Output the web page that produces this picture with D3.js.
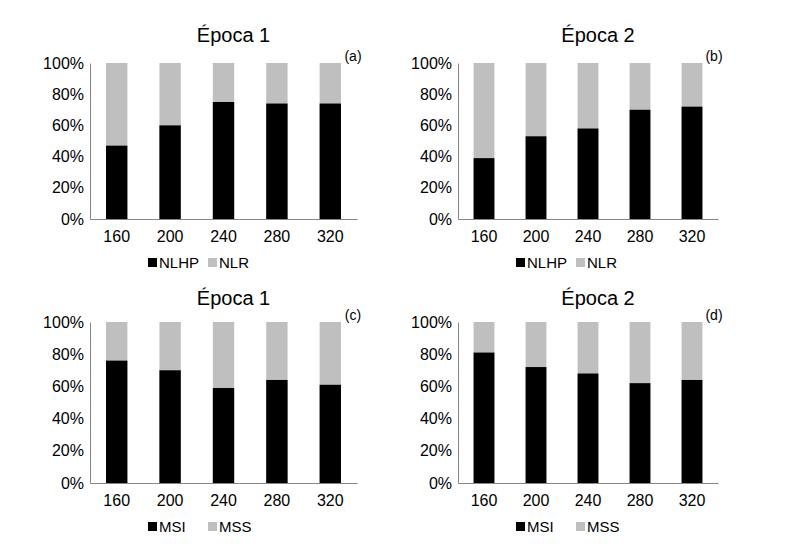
<!DOCTYPE html><html><head><meta charset="utf-8"><script src="https://d3js.org/d3.v7.min.js"></script>
<style>body{margin:0;background:#fff}text{font-family:Arial,"Liberation Sans",sans-serif}</style></head><body>
<svg id="c" width="786" height="552"></svg>
<script>
const categories=["160","200","240","280","320"];
const valsA=[47,60,75,74,74];
const valsB=[39,53,58,70,72];
const valsC=[76,70,59,64,61];
const valsD=[81,72,68,62,64];
const yTicks=[0,20,40,60,80,100];
const titles=["Época 1","Época 2","Época 1","Época 2"];
const tags=["(a)","(b)","(c)","(d)"];
const legendTop=["NLHP","NLR"], legendBottom=["MSI","MSS"];
const svg=d3.select("#c");
function panel(ox,w,top,bottom,vals,title,tag,leg,ty){
  const g=svg.append("g");
  const x=d3.scaleBand().domain(categories).range([ox,ox+w]).paddingInner(0.6).paddingOuter(0.3);
  const y=d3.scaleLinear().domain([0,100]).range([bottom,top]);
  g.selectAll(".bg").data(categories).join("rect").attr("x",d=>x(d)).attr("width",x.bandwidth())
   .attr("y",y(100)).attr("height",y(0)-y(100)).attr("fill","#bfbfbf");
  g.selectAll(".fg").data(vals).join("rect").attr("x",(d,i)=>x(categories[i])).attr("width",x.bandwidth())
   .attr("y",d=>y(d)).attr("height",d=>y(0)-y(d)).attr("fill","#000");
  const ya=g.append("g").attr("transform",`translate(${ox},0)`).call(d3.axisLeft(y).tickValues(yTicks).tickSize(0).tickPadding(6).tickFormat(d=>d+"%"));
  const xa=g.append("g").attr("transform",`translate(0,${bottom})`).call(d3.axisBottom(x).tickSize(0).tickPadding(12));
  [ya,xa].forEach(a=>{a.select(".domain").attr("stroke","#868686");a.selectAll("text").attr("font-size",16).attr("fill","#000");});
  g.append("text").attr("x",ox+w/2+10).attr("y",ty).attr("text-anchor","middle").attr("font-size",20).text(title);
  g.append("text").attr("x",ox+w-4).attr("y",top-2).attr("text-anchor","middle").attr("font-size",14).text(tag);
  const ly=bottom+49;
  [[ox+58,"#000",leg[0]],[ox+118,"#bfbfbf",leg[1]]].forEach(([lx,c,t])=>{
    g.append("rect").attr("x",lx).attr("y",ly-10).attr("width",9).attr("height",9).attr("fill",c);
    g.append("text").attr("x",lx+11).attr("y",ly).attr("font-size",15).text(t);
  });
}
panel(90,267,63,219,valsA,titles[0],tags[0],legendTop,42);
panel(458,260,63,219,valsB,titles[1],tags[1],legendTop,42);
panel(90,267,322,483,valsC,titles[2],tags[2],legendBottom,305);
panel(458,260,322,483,valsD,titles[3],tags[3],legendBottom,305);
</script></body></html>
